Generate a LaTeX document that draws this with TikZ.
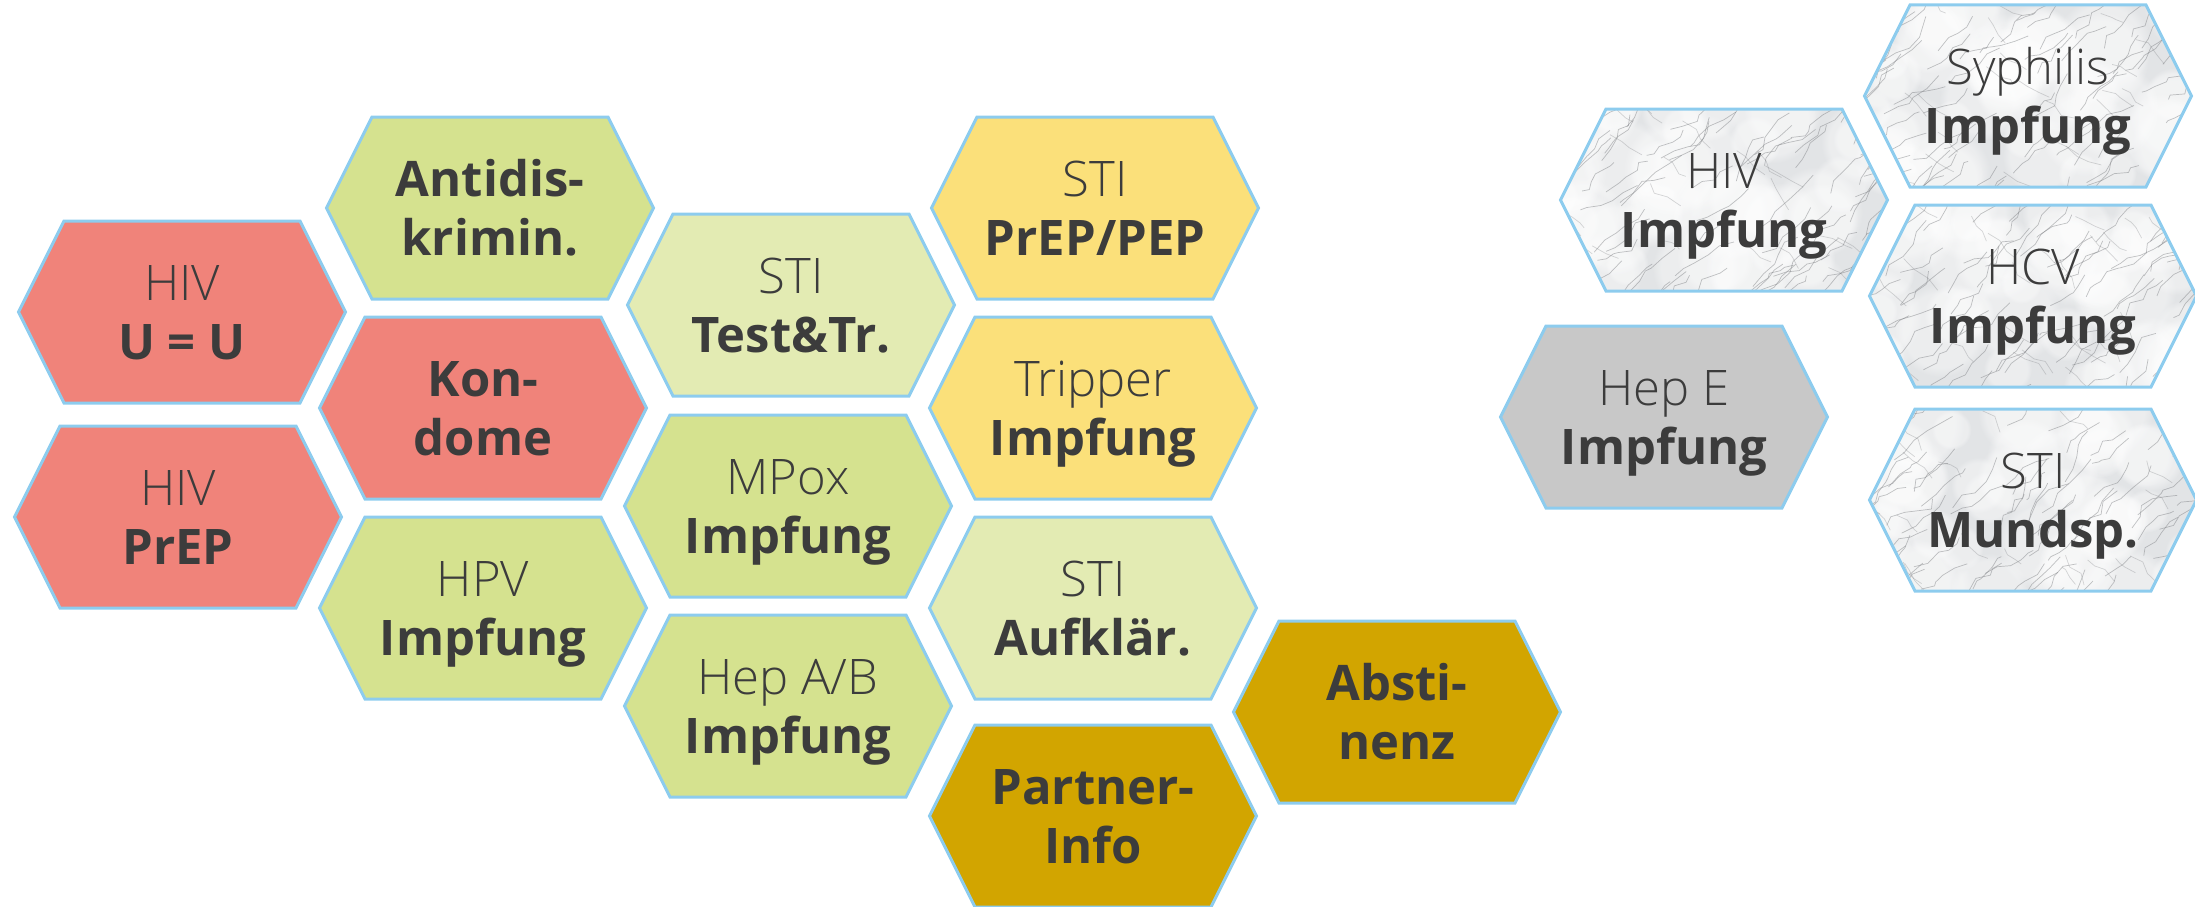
\documentclass[tikz,border=0pt]{standalone}
\usepackage{fontspec}
\usetikzlibrary{fadings}
\setmainfont{Open Sans}
\newfontfamily\lightfont{Open Sans Light}
\definecolor{hexred}{RGB}{240,131,122}
\definecolor{hexgreen}{RGB}{213,226,143}
\definecolor{hexlgreen}{RGB}{227,235,179}
\definecolor{hexyellow}{RGB}{251,224,122}
\definecolor{hexgold}{RGB}{210,165,0}
\definecolor{hexgray}{RGB}{200,200,200}
\definecolor{hexblue}{RGB}{141,204,238}
\definecolor{txtgray}{RGB}{60,60,60}
\definecolor{marblebase}{RGB}{226,228,230}
\definecolor{veincol}{RGB}{120,122,126}
\newcommand{\hexline}[1]{\rule{0pt}{35pt}\smash{#1}}
\newcommand{\hexfill}[3]{%
  \filldraw[hexborder, fill=#3] (#1-163.5,#2) -- (#1-118,#2-91) -- (#1+118,#2-91) -- (#1+163.5,#2) -- (#1+118,#2+91) -- (#1-118,#2+91) -- cycle;}
\newcommand{\marblehex}[2]{%
  \begin{scope}
    \clip (#1-163.5,#2) -- (#1-118,#2-91) -- (#1+118,#2-91) -- (#1+163.5,#2) -- (#1+118,#2+91) -- (#1-118,#2+91) -- cycle;
    \fill[marblebase] (#1-170,#2-95) rectangle (#1+170,#2+95);
    \foreach \k in {1,...,45}{%
      \pgfmathsetmacro\sx{#1-170+340*rnd}
      \pgfmathsetmacro\sy{#2-95+190*rnd}
      \pgfmathsetmacro\rr{20+30*rnd}
      \fill[white, opacity=0.35, path fading=circle with fuzzy edge 20 percent] (\sx,\sy) circle[radius=\rr];
    }
    \foreach \k in {1,...,70}{%
      \pgfmathsetmacro\sx{#1-190+340*rnd}
      \pgfmathsetmacro\sy{#2-80+200*rnd}
      \draw[vein] (\sx,\sy) -- ++({8+7*rand},{-7+6*rand}) -- ++({8+7*rand},{-7+6*rand}) -- ++({8+7*rand},{-7+6*rand}) -- ++({8+7*rand},{-7+6*rand}) -- ++({8+7*rand},{-7+6*rand});
    }
    \foreach \k in {1,...,25}{%
      \pgfmathsetmacro\sx{#1-170+340*rnd}
      \pgfmathsetmacro\sy{#2-110+190*rnd}
      \draw[vein, opacity=0.3] (\sx,\sy) -- ++({8+6*rand},{7+5*rand}) -- ++({8+6*rand},{7+5*rand}) -- ++({8+6*rand},{7+5*rand});
    }
  \end{scope}
  \draw[hexborder] (#1-163.5,#2) -- (#1-118,#2-91) -- (#1+118,#2-91) -- (#1+163.5,#2) -- (#1+118,#2+91) -- (#1-118,#2+91) -- cycle;}
\tikzset{
  hexborder/.style={draw=hexblue, line width=3pt, line join=miter},
  vein/.style={draw=veincol, line width=0.7pt, opacity=0.45, line join=round},
  hextext/.style={inner sep=0pt, align=center, text=txtgray, font=\fontsize{49}{59}\selectfont}
}
\begin{document}
\begin{tikzpicture}[x=1pt, y=-1pt]
\pgfmathsetseed{4242}
\useasboundingbox (0,0) rectangle (2195,907);
% left cluster
\hexfill{182}{312}{hexred}
\node[hextext] (hivuu) at (182,312) {\hexline{\lightfont HIV}\\\hexline{\textbf{U = U}}};
\hexfill{178}{517}{hexred}
\node[hextext] (hivprep) at (178,517) {\hexline{\lightfont HIV}\\\hexline{\textbf{PrEP}}};
\hexfill{490}{208}{hexgreen}
\node[hextext] (antidis) at (490,208) {\hexline{\textbf{Antidis-}}\\\hexline{\textbf{krimin.}}};
\hexfill{483}{408}{hexred}
\node[hextext] (kondome) at (483,408) {\hexline{\textbf{Kon-}}\\\hexline{\textbf{dome}}};
\hexfill{483}{608}{hexgreen}
\node[hextext] (hpv) at (483,608) {\hexline{\lightfont HPV}\\\hexline{\textbf{Impfung}}};
\hexfill{791}{305}{hexlgreen}
\node[hextext] (stitest) at (791,305) {\hexline{\lightfont STI}\\\hexline{\textbf{Test\&Tr.}}};
\hexfill{788}{506}{hexgreen}
\node[hextext] (mpox) at (788,506) {\hexline{\lightfont MPox}\\\hexline{\textbf{Impfung}}};
\hexfill{788}{706}{hexgreen}
\node[hextext] (hepab) at (788,706) {\hexline{\lightfont Hep A/B}\\\hexline{\textbf{Impfung}}};
\hexfill{1095}{208}{hexyellow}
\node[hextext] (stiprep) at (1095,208) {\hexline{\lightfont STI}\\\hexline{\textbf{PrEP/PEP}}};
\hexfill{1093}{408}{hexyellow}
\node[hextext] (tripper) at (1093,408) {\hexline{\lightfont Tripper}\\\hexline{\textbf{Impfung}}};
\hexfill{1093}{608}{hexlgreen}
\node[hextext] (stiauf) at (1093,608) {\hexline{\lightfont STI}\\\hexline{\textbf{Aufklär.}}};
\hexfill{1093}{816}{hexgold}
\node[hextext] (partner) at (1093,816) {\hexline{\textbf{Partner-}}\\\hexline{\textbf{Info}}};
\hexfill{1397}{712}{hexgold}
\node[hextext] (abst) at (1397,712) {\hexline{\textbf{Absti-}}\\\hexline{\textbf{nenz}}};
% right cluster
\hexfill{1664}{417}{hexgray}
\node[hextext] (hepe) at (1664,417) {\hexline{\lightfont Hep E}\\\hexline{\textbf{Impfung}}};
\marblehex{1724}{200}
\node[hextext] (hivimpf) at (1724,200) {\hexline{\lightfont HIV}\\\hexline{\textbf{Impfung}}};
\marblehex{2028}{96}
\node[hextext] (syph) at (2028,96) {\hexline{\lightfont Syphilis}\\\hexline{\textbf{Impfung}}};
\marblehex{2033}{296}
\node[hextext] (hcv) at (2033,296) {\hexline{\lightfont HCV}\\\hexline{\textbf{Impfung}}};
\marblehex{2033}{500}
\node[hextext] (stimund) at (2033,500) {\hexline{\lightfont STI}\\\hexline{\textbf{Mundsp.}}};
\end{tikzpicture}
\end{document}
